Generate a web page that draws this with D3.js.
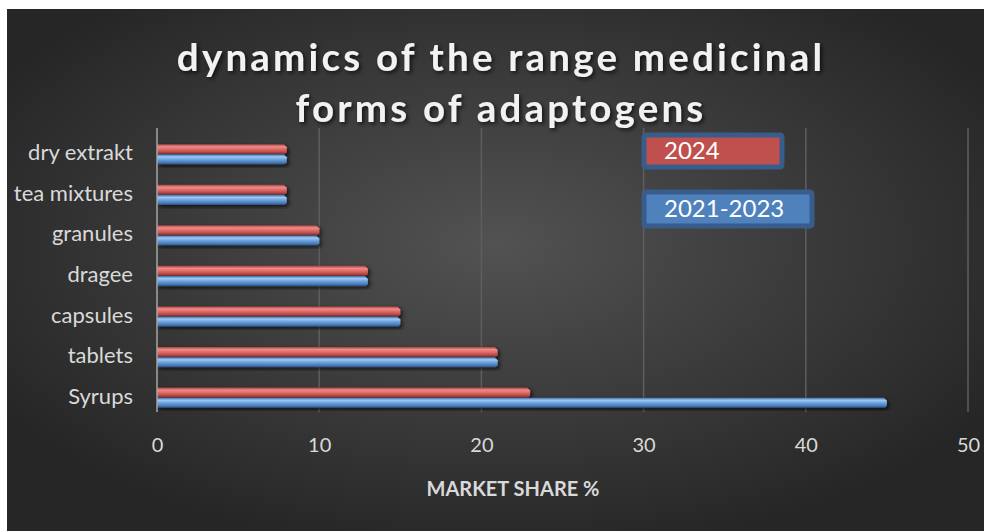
<!DOCTYPE html>
<html>
<head>
<meta charset="utf-8">
<script src="https://cdn.jsdelivr.net/npm/d3@7"></script>
<style>
  body { margin: 0; background: #fff; }
  text { font-family: Lato, "Open Sans", sans-serif; }
</style>
</head>
<body>
<div id="chart"></div>
<script>
// chart size
var width = 987,
    height = 531;

// data, bottom to top as in the picture
var categories = ["Syrups", "tablets", "capsules", "dragee", "granules", "tea mixtures", "dry extrakt"];
var values2024 = [23, 21, 15, 13, 10, 8, 8];
var values2021 = [45, 21, 15, 13, 10, 8, 8];
var xTicks = [0, 10, 20, 30, 40, 50];
var seriesNames = ["2024", "2021-2023"];

// plot frame (gridlines run from top to bottom)
var plot = { left: 157, right: 968, top: 128, bottom: 412 };

var svg = d3.select("#chart")
    .append("svg")
    .attr("width", width)
    .attr("height", height);

var defs = svg.append("defs");

// dark background with lighter middle
var bg = defs.append("radialGradient")
    .attr("id", "bg")
    .attr("cx", "50%").attr("cy", "45%").attr("r", "60%");
bg.append("stop").attr("offset", "0%").attr("stop-color", "#525252");
bg.append("stop").attr("offset", "100%").attr("stop-color", "#262626");

// bar gradients, like a rounded tube
function tube(id, stops) {
    var g = defs.append("linearGradient")
        .attr("id", id)
        .attr("x1", 0).attr("y1", 0).attr("x2", 0).attr("y2", 1);
    stops.forEach(function(s) {
        g.append("stop").attr("offset", s[0]).attr("stop-color", s[1]);
    });
}
tube("red", [["0%", "#a04442"], ["25%", "#f08a87"], ["50%", "#e06b68"], ["80%", "#b44a48"], ["100%", "#7a2e2c"]]);
tube("blue", [["0%", "#3e6aa0"], ["25%", "#9ccaf6"], ["50%", "#6ea4de"], ["80%", "#4a7cb8"], ["100%", "#2c4e7a"]]);

var shadow = defs.append("filter").attr("id", "shadow")
    .attr("x", "-10%").attr("y", "-30%").attr("width", "120%").attr("height", "160%");
shadow.append("feDropShadow")
    .attr("dx", 2).attr("dy", 2).attr("stdDeviation", 2)
    .attr("flood-color", "#000").attr("flood-opacity", 0.7);

svg.append("rect")
    .attr("x", 7).attr("y", 9)
    .attr("width", 977).attr("height", 522)
    .attr("fill", "url(#bg)");

var x = d3.scaleLinear()
    .domain([0, 50])
    .range([plot.left, plot.right]);

var y = d3.scaleBand()
    .domain(categories.slice().reverse())
    .range([134, 418])
    .paddingInner(0.5)
    .paddingOuter(0.25);

// gridlines
svg.append("g")
    .selectAll("line")
    .data(xTicks.slice(1))
    .enter().append("line")
    .attr("x1", function(d) { return x(d); })
    .attr("x2", function(d) { return x(d); })
    .attr("y1", plot.top)
    .attr("y2", plot.bottom)
    .attr("stroke", "#5e5e5e")
    .attr("stroke-width", 1.5);

// x tick labels
var xAxis = svg.append("g")
    .attr("transform", "translate(0," + plot.bottom + ")")
    .call(d3.axisBottom(x).tickValues(xTicks).tickSize(0).tickPadding(26));
xAxis.select(".domain").remove();
xAxis.selectAll("text")
    .attr("font-size", "20px")
    .attr("font-family", "Lato, sans-serif")
    .attr("fill", "#d9d9d9");

// category labels
var yAxis = svg.append("g")
    .attr("transform", "translate(133,-1)")
    .call(d3.axisLeft(y).tickSize(0).tickPadding(0));
yAxis.select(".domain").remove();
yAxis.selectAll("text")
    .attr("font-size", "22px")
    .attr("font-family", "Lato, sans-serif")
    .attr("fill", "#d9d9d9");

// bars
var barH = y.bandwidth() / 2;

function drawBars(vals, offset, fill) {
    svg.append("g")
        .selectAll("path")
        .data(categories)
        .enter().append("path")
        .attr("d", function(d, i) {
            var x0 = x(0), x1 = x(vals[i]);
            var y0 = y(d) + offset, y1 = y0 + barH;
            return "M" + x0 + "," + y0 + "L" + (x1 - 3) + "," + y0 +
                "L" + x1 + "," + (y0 + 3) + "L" + x1 + "," + (y1 - 2) +
                "L" + (x1 - 2) + "," + y1 + "L" + x0 + "," + y1 + "Z";
        })
        .attr("fill", fill)
        .attr("filter", "url(#shadow)");
}
drawBars(values2024, 0, "url(#red)");
drawBars(values2021, barH, "url(#blue)");

// vertical axis line
svg.append("line")
    .attr("x1", x(0)).attr("x2", x(0))
    .attr("y1", plot.top).attr("y2", plot.bottom)
    .attr("stroke", "#a6a6a6")
    .attr("stroke-width", 1.5);

// legend boxes
var legendBoxes = [
    { name: seriesNames[0], x: 644, y: 135, w: 138, h: 32, fill: "#c0504d" },
    { name: seriesNames[1], x: 644, y: 192, w: 168, h: 34, fill: "#4f81bd" }
];
var legend = svg.selectAll(".legend")
    .data(legendBoxes)
    .enter().append("g")
    .attr("class", "legend");
legend.append("rect")
    .attr("x", function(d) { return d.x; })
    .attr("y", function(d) { return d.y; })
    .attr("width", function(d) { return d.w; })
    .attr("height", function(d) { return d.h; })
    .attr("rx", 2)
    .attr("fill", function(d) { return d.fill; })
    .attr("stroke", "#385d8a")
    .attr("stroke-width", 5);
legend.append("text")
    .attr("x", function(d) { return d.x + 20; })
    .attr("y", function(d) { return d.y + d.h / 2 + 8; })
    .attr("font-size", "24px")
    .attr("fill", "#ffffff")
    .text(function(d) { return d.name; });

// title
var title = svg.append("text")
    .attr("text-anchor", "middle")
    .attr("font-size", "38.5px")
    .attr("font-weight", "bold")
    .attr("letter-spacing", "3.2px")
    .attr("fill", "#f2f2f2")
    .attr("filter", "url(#shadow)");
title.append("tspan").attr("x", 501).attr("y", 71).text("dynamics of the range medicinal");
title.append("tspan").attr("x", 501).attr("y", 122).text("forms of adaptogens");

// x axis title
svg.append("text")
    .attr("x", 513)
    .attr("y", 496)
    .attr("text-anchor", "middle")
    .attr("font-size", "20px")
    .attr("font-weight", "bold")
    .attr("fill", "#d9d9d9")
    .text("MARKET SHARE %");
</script>
</body>
</html>
